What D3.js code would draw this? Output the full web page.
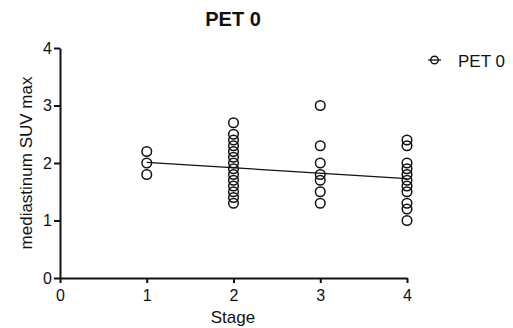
<!DOCTYPE html>
<html>
<head>
<meta charset="utf-8">
<script src="https://cdn.jsdelivr.net/npm/d3@7"></script>
<style>
  body { margin: 0; background: #fff; }
  text { font-family: "Liberation Sans", Arial, sans-serif; fill: #111; }
</style>
</head>
<body>
<div id="chart"></div>
<script>
// values
const stage1 = [2.2, 2.0, 1.8];
const stage2 = [2.7, 2.5, 2.4, 2.3, 2.2, 2.1, 2.0, 1.9, 1.8, 1.7, 1.6, 1.5, 1.4, 1.3];
const stage3 = [3.0, 2.3, 2.0, 1.8, 1.7, 1.5, 1.3];
const stage4 = [2.4, 2.3, 2.0, 1.9, 1.8, 1.7, 1.6, 1.5, 1.3, 1.2, 1.0];
const stages = [1, 2, 3, 4];
const trendX = [1, 4];
const trendY = [2.01, 1.73];
const xTicks = [0, 1, 2, 3, 4];
const yTicks = [0, 1, 2, 3, 4];
const seriesName = 'PET 0';

const width = 513, height = 328;
const margin = { top: 48, right: 106, bottom: 50, left: 60 };
const innerW = width - margin.left - margin.right;
const innerH = height - margin.top - margin.bottom;

const points = [];
[stage1, stage2, stage3, stage4].forEach((vals, i) => {
  vals.forEach(v => points.push({ stage: stages[i], value: v }));
});

const svg = d3.select('#chart')
  .append('svg')
  .attr('width', width)
  .attr('height', height);

const g = svg.append('g')
  .attr('transform', 'translate(' + margin.left + ',' + margin.top + ')');

const x = d3.scaleLinear().domain([0, 4]).range([0, innerW]);
const y = d3.scaleLinear().domain([0, 4]).range([innerH, 0]);

const xAxis = g.append('g')
  .attr('transform', 'translate(0,' + innerH + ')')
  .call(d3.axisBottom(x).tickValues(xTicks).tickFormat(d3.format('d')).tickSize(5).tickSizeOuter(0));

const yAxis = g.append('g')
  .call(d3.axisLeft(y).tickValues(yTicks).tickFormat(d3.format('d')).tickSize(6).tickSizeOuter(0));

[xAxis, yAxis].forEach(ax => {
  ax.select('.domain').attr('stroke', '#111').attr('stroke-width', 2);
  ax.selectAll('.tick line').attr('stroke', '#111').attr('stroke-width', 2);
  ax.selectAll('.tick text')
    .style('font-family', '"Liberation Sans", Arial, sans-serif')
    .style('font-size', '16px')
    .attr('fill', '#111');
});
xAxis.selectAll('.tick text').attr('y', 23).attr('dy', 0);
yAxis.selectAll('.tick text').attr('x', -8);

// trend line
g.append('path')
  .datum(trendX.map((d, i) => [d, trendY[i]]))
  .attr('fill', 'none')
  .attr('stroke', '#111')
  .attr('stroke-width', 1.3)
  .attr('d', d3.line().x(d => x(d[0])).y(d => y(d[1])));

g.selectAll('circle.pt')
  .data(points)
  .join('circle')
  .attr('class', 'pt')
  .attr('cx', d => x(d.stage))
  .attr('cy', d => y(d.value))
  .attr('r', 4.8)
  .attr('fill', 'none')
  .attr('stroke', '#111')
  .attr('stroke-width', 1.5);

// title and labels
svg.append('text')
  .attr('x', 233)
  .attr('y', 26)
  .attr('text-anchor', 'middle')
  .style('font-size', '20px')
  .style('font-weight', 'bold')
  .text(seriesName);

svg.append('text')
  .attr('x', 233)
  .attr('y', 323)
  .attr('text-anchor', 'middle')
  .style('font-size', '17px')
  .text('Stage');

svg.append('text')
  .attr('transform', 'translate(32,' + (margin.top + innerH / 2) + ') rotate(-90)')
  .attr('text-anchor', 'middle')
  .style('font-size', '17px')
  .text('mediastinum SUV max');

// legend
const lg = svg.append('g').attr('transform', 'translate(428,60)');
lg.append('line').attr('x1', 0).attr('x2', 13).attr('y1', 0).attr('y2', 0)
  .attr('stroke', '#111').attr('stroke-width', 1.3);
lg.append('circle').attr('cx', 6.5).attr('cy', 0).attr('r', 3.8)
  .attr('fill', 'none').attr('stroke', '#111').attr('stroke-width', 1.4);
lg.append('text').attr('x', 30).attr('y', 6.5)
  .style('font-size', '17px')
  .text(seriesName);
</script>
</body>
</html>
